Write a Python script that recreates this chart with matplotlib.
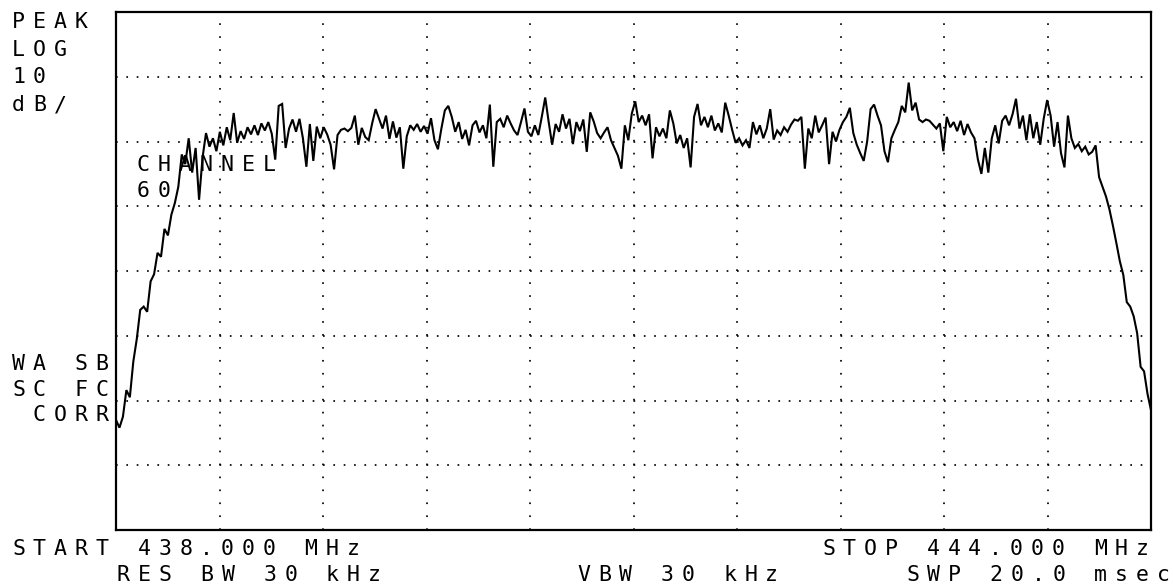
import numpy as np
import matplotlib
matplotlib.use("Agg")
import matplotlib.pyplot as plt

plt.rcParams['lines.scale_dashes'] = False

# ---------------- data ----------------
START_MHZ = 438.0
STOP_MHZ = 444.0
REF_DB = 0.0           # top graticule line
DB_PER_DIV = 10.0
N_DIV_Y = 8
N_DIV_X = 10

AMPLITUDE_DB = [
    -63.0, -64.2, -62.5, -58.4, -59.5, -54.0, -50.5, -46.0, -45.5, -46.3,
    -41.6, -40.5, -37.2, -37.8, -33.5, -34.5, -31.3, -29.5, -27.0, -22.0,
    -23.5, -19.5, -24.8, -21.0, -29.0, -22.5, -18.7, -20.8, -19.5, -21.5,
    -18.5, -20.6, -17.8, -19.8, -15.6, -20.2, -18.4, -19.6, -17.8, -18.9,
    -17.5, -19.0, -17.2, -18.3, -17.0, -18.8, -22.8, -14.5, -14.2, -21.0,
    -18.0, -16.6, -18.5, -16.5, -19.5, -23.9, -17.3, -23.0, -17.7, -19.5,
    -17.8, -18.9, -20.5, -24.3, -19.0, -18.2, -18.0, -18.4, -17.9, -16.0,
    -20.5, -17.9, -19.3, -19.8, -17.2, -15.0, -16.5, -18.0, -16.0, -19.6,
    -16.9, -19.4, -17.8, -24.2, -19.2, -17.5, -18.2, -17.3, -18.5, -17.6,
    -18.8, -16.4, -19.8, -21.2, -18.0, -15.2, -14.5, -16.2, -18.5, -17.0,
    -19.6, -18.2, -20.6, -17.5, -16.8, -18.6, -17.5, -19.5, -14.3, -23.9,
    -17.0, -16.5, -17.8, -16.0, -17.2, -18.3, -19.0, -17.0, -14.9, -18.5,
    -19.2, -17.5, -19.0, -16.2, -13.2, -17.0, -20.5, -17.3, -18.5, -15.8,
    -18.0, -16.5, -20.4, -17.0, -18.4, -16.6, -21.6, -15.5, -16.9, -18.7,
    -19.5, -18.6, -17.8, -19.8, -21.0, -22.2, -24.2, -17.5, -19.8, -15.7,
    -13.8, -17.0, -16.0, -17.5, -15.8, -22.6, -17.8, -19.2, -18.0, -19.5,
    -15.2, -17.2, -20.3, -19.0, -21.0, -19.5, -24.0, -16.2, -14.2, -17.5,
    -16.2, -17.8, -16.0, -18.3, -17.2, -18.6, -14.0, -16.0, -18.2, -20.2,
    -19.5, -20.6, -19.8, -21.0, -17.0, -18.9, -17.5, -19.5, -18.0, -15.0,
    -19.7, -18.3, -19.0, -17.8, -18.5, -17.4, -16.6, -16.8, -16.2, -24.2,
    -18.0, -19.5, -16.0, -18.6, -17.5, -16.3, -23.5, -18.5, -20.0, -18.2,
    -17.0, -16.2, -14.8, -18.7, -20.5, -21.8, -23.0, -20.0, -15.0, -14.3,
    -16.0, -17.5, -21.5, -23.2, -19.5, -18.2, -17.0, -14.5, -15.5, -10.9,
    -15.2, -14.0, -16.6, -17.0, -16.6, -16.8, -17.4, -18.0, -17.2, -21.5,
    -16.2, -17.8, -17.0, -18.4, -16.8, -19.0, -17.3, -18.6, -19.5, -22.8,
    -25.0, -21.0, -24.8, -19.5, -17.5, -20.3, -16.8, -16.0, -17.5, -15.8,
    -13.4, -18.0, -16.0, -19.8, -15.8, -19.5, -17.0, -20.5, -16.5, -13.6,
    -16.0, -20.8, -17.0, -21.8, -24.0, -16.0, -19.5, -21.0, -20.4, -21.5,
    -20.8, -22.0, -21.6, -20.6, -25.5, -27.0, -28.5, -30.5, -33.0, -35.7,
    -38.5, -40.6, -44.8, -45.5, -47.0, -49.6, -54.8, -55.5, -59.0, -61.5,
]

LEFT_LABELS = ["PEAK", "LOG", "10", "dB/"]
CORR_LABELS = ["WA SB", "SC FC", " CORR"]
CHANNEL_LABELS = ["CHANNEL", "60"]
START_LABEL = "START 438.000 MHz"
STOP_LABEL = "STOP 444.000 MHz"
RBW_LABEL = "RES BW 30 kHz"
VBW_LABEL = "VBW 30 kHz"
SWP_LABEL = "SWP 20.0 msec"

# ---------------- figure ----------------
W, H = 1173, 586
DPI = 100
fig = plt.figure(figsize=(W / DPI, H / DPI), dpi=DPI, facecolor="white")

X0, X1, Y0, Y1 = 116, 1151, 12, 530   # frame in pixels
ax = fig.add_axes([X0 / W, (H - Y1) / H, (X1 - X0) / W, (Y1 - Y0) / H])
ax.set_facecolor("white")

bottom_db = REF_DB - N_DIV_Y * DB_PER_DIV
ax.set_xlim(START_MHZ, STOP_MHZ)
ax.set_ylim(bottom_db, REF_DB)
ax.set_xticks([])
ax.set_yticks([])
for sp in ax.spines.values():
    sp.set_linewidth(1.6)
    sp.set_color("black")

# dotted graticule
px_pt = 72.0 / DPI
hx_pitch = (X1 - X0) / N_DIV_X / 10.0 * px_pt
vy_pitch = (Y1 - Y0) / N_DIV_Y / 5.0 * px_pt
dot = 1.7 * px_pt
span = STOP_MHZ - START_MHZ
for k in range(1, N_DIV_Y):
    yv = REF_DB - k * DB_PER_DIV
    ax.plot([START_MHZ, STOP_MHZ], [yv, yv], color="black", lw=1.7 * px_pt,
            linestyle=(0, (dot, hx_pitch - dot)), dash_capstyle="butt",
            zorder=1)
for k in range(1, N_DIV_X):
    xv = START_MHZ + k * span / N_DIV_X
    ax.plot([xv, xv], [bottom_db, REF_DB], color="black", lw=1.7 * px_pt,
            linestyle=(0, (dot, vy_pitch - dot)), dash_capstyle="butt",
            zorder=1)

# trace
freqs = np.linspace(START_MHZ, STOP_MHZ, len(AMPLITUDE_DB))
ax.plot(freqs, AMPLITUDE_DB, color="black", lw=1.5, zorder=3,
        solid_joinstyle="miter")

# ---------------- annotation text on a character grid ----------------
PITCH = 20.9
FS = 15.5
FONT = "DejaVu Sans Mono"


def put(s, x_px, base_px):
    for k, ch in enumerate(s):
        if ch == " ":
            continue
        fig.text((x_px + k * PITCH) / W, 1 - base_px / H, ch,
                 fontsize=FS, family=FONT, color="black",
                 ha="left", va="baseline")


for i, s in enumerate(LEFT_LABELS):
    put(s, 12, 28 + i * 27.7)
for i, s in enumerate(CORR_LABELS):
    put(s, 12, 370 + i * 25.7)
for i, s in enumerate(CHANNEL_LABELS):
    put(s, 137, 171 + i * 25.7)
put(START_LABEL, 12, 555)
put(STOP_LABEL, 822, 555)
put(RBW_LABEL, 117, 581)
put(VBW_LABEL, 577, 581)
put(SWP_LABEL, 906, 581)

fig.savefig("out.png", dpi=DPI, facecolor="white")
